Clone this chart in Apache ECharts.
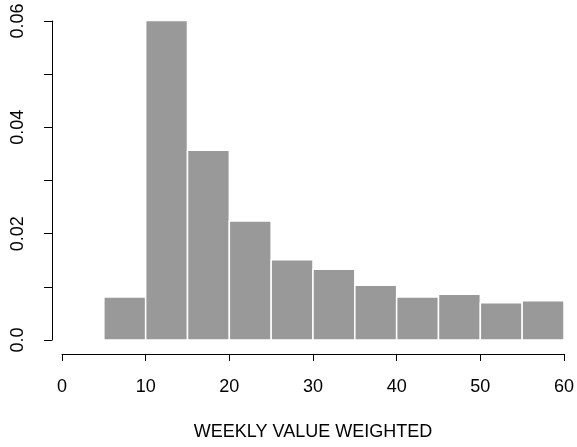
<!DOCTYPE html>
<html>
<head>
<meta charset="utf-8">
<script src="https://cdn.jsdelivr.net/npm/echarts@6/dist/echarts.min.js"></script>
<style>
  html, body { margin: 0; padding: 0; background: #fff; }
  #chart { width: 577px; height: 447px; }
</style>
</head>
<body>
<div id="chart"></div>
<script>
// histogram bins (left edge, right edge) and density per bin
const binStart = [5, 10, 15, 20, 25, 30, 35, 40, 45, 50, 55];
const binEnd = [10, 15, 20, 25, 30, 35, 40, 45, 50, 55, 60];
const density = [0.0081, 0.0601, 0.0357, 0.0224, 0.0151, 0.0133, 0.0103, 0.0081, 0.0086, 0.0070, 0.0074];
const yLabels = { 0: "0.0", 0.02: "0.02", 0.04: "0.04", 0.06: "0.06" };
const xTitle = "WEEKLY VALUE WEIGHTED";

const chart = echarts.init(document.getElementById("chart"));

const fontFamily = "Liberation Sans, Arial, sans-serif";

chart.setOption({
  animation: false,
  grid: {
    left: 62,
    right: 13,
    top: 21,
    bottom: 107,
  },
  xAxis: {
    type: "value",
    min: 0,
    max: 60,
    interval: 10,
    offset: 14,
    name: xTitle,
    nameLocation: "middle",
    nameGap: 78,
    nameMoveOverlap: false,
    nameTextStyle: { color: "#000", fontSize: 18, fontFamily, verticalAlign: "middle" },
    axisLine: { show: true, onZero: false, lineStyle: { color: "#000", width: 1 } },
    axisTick: { show: true, length: 7, lineStyle: { color: "#000" } },
    axisLabel: { color: "#000", fontSize: 18, fontFamily, margin: 24 },
    splitLine: { show: false },
  },
  yAxis: {
    type: "value",
    min: 0,
    max: 0.06,
    interval: 0.01,
    offset: 10,
    axisLine: { show: true, onZero: false, lineStyle: { color: "#000", width: 1 } },
    axisTick: { show: true, length: 8, lineStyle: { color: "#000" } },
    axisLabel: {
      color: "#000",
      fontSize: 18,
      fontFamily,
      rotate: 90,
      margin: 25,
      formatter: (v) => {
        const key = Math.round(v * 100) / 100;
        return yLabels[key] !== undefined ? yLabels[key] : "";
      },
    },
    splitLine: { show: false },
  },
  series: [
    {
      type: "custom",
      data: binStart.map((s, i) => [s, binEnd[i], density[i]]),
      encode: { x: [0, 1], y: 2 },
      renderItem: (params, api) => {
        const p0 = api.coord([api.value(0), 0]);
        const p1 = api.coord([api.value(1), api.value(2)]);
        return {
          type: "rect",
          shape: {
            x: p0[0],
            y: p1[1],
            width: p1[0] - p0[0],
            height: p0[1] - p1[1],
          },
          style: {
            fill: "#999999",
            stroke: "#ffffff",
            lineWidth: 1.5,
          },
        };
      },
    },
  ],
});
</script>
</body>
</html>
